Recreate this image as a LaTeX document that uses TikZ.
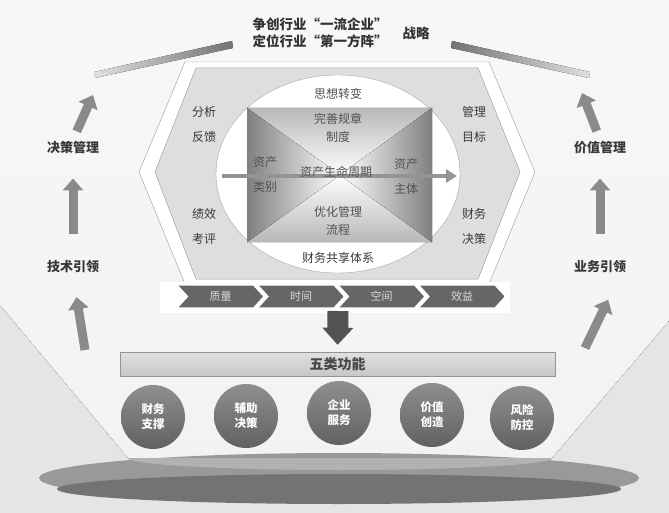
\documentclass[tikz,border=0pt]{standalone}
\usepackage{fontspec}
\setmainfont{Noto Sans CJK SC}
\usetikzlibrary{arrows.meta, positioning, shapes.symbols}
\tikzset{
  titletext/.style = {font=\bfseries\fontsize{13.5}{17}\selectfont, text=black!80,
                      align=center},
  sidelabel/.style = {font=\bfseries\fontsize{13}{15}\selectfont, text=black!78,
                      inner sep=2pt},
  hexlabel/.style  = {font=\fontsize{12}{25}\selectfont, text=black!78, align=center},
  envlabel/.style  = {font=\fontsize{12}{18}\selectfont, text=black!68, align=center},
  chevron/.style   = {signal, signal to=east, signal from=west, signal pointer angle=95,
                      minimum width=87pt, minimum height=23pt, fill=black!60,
                      draw=white, line width=1.2pt, inner sep=0pt,
                      font=\fontsize{11}{13}\selectfont, text=black!15},
  funcball/.style  = {circle, minimum size=64pt, inner sep=0pt, top color=black!44,
                      bottom color=black!62, font=\bfseries\fontsize{11.5}{15}\selectfont,
                      text=white, align=center},
  sidearrow/.style = {-{Triangle[width=20pt,length=12pt]}, line width=9pt, draw=black!46},
  downarrow/.style = {-{Triangle[width=30pt,length=17pt]}, line width=21pt, draw=black!68},
  lifearrow/.style = {-{Triangle[width=13pt,length=11pt]}, line width=4pt, draw=black!42},
}

\begin{document}
\begin{tikzpicture}[x=1pt, y=-1pt]
  \useasboundingbox (0,0) rectangle (669,513);
  % --- backdrop -------------------------------------------------------------
  \fill[black!10] (0,0) rectangle (669,513);
  \fill[top color=black!3, bottom color=black!5] (0,0) -- (0,305) -- (128,458)
    arc[start angle=180, end angle=0, x radius=212, y radius=12]
    -- (669,321) -- (669,0) -- cycle;
  \fill[left color=black!12, right color=black!55] (94,72) -- (232,41) -- (233,48) -- (95,78) -- cycle;
  \fill[left color=black!55, right color=black!12] (452,41) -- (590,72) -- (589,78) -- (451,48) -- cycle;

  % --- hexagon and ellipse --------------------------------------------------
  \draw[black!40, fill=white] (185,62) -- (489,62) -- (535,172) -- (489,284)
    -- (185,284) -- (139,172) -- cycle;
  \fill[left color=black!13, middle color=white, right color=black!13]
    (196,68) -- (478,68) -- (520,172) -- (478,279) -- (196,279) -- (155,172) -- cycle;
  \draw[black!30] (196,68) -- (478,68) -- (520,172) -- (478,279) -- (196,279)
    -- (155,172) -- cycle;
  \draw[black!35, fill=white] (338,174) ellipse [x radius=122, y radius=99];

  % --- envelope -------------------------------------------------------------
  \coordinate (envc) at (340,175);
  \fill[top color=black!28, bottom color=white] (247,108) -- (432,108) -- (envc) -- cycle;
  \fill[top color=white, bottom color=black!28] (247,242) -- (432,242) -- (envc) -- cycle;
  \fill[left color=black!50, right color=white] (247,108) -- (envc) -- (247,242) -- cycle;
  \fill[left color=white, right color=black!50] (432,108) -- (envc) -- (432,242) -- cycle;

  \coordinate (lifeL) at (222,176);
  \coordinate (lifeR) at (457,176);
  \draw[lifearrow] (lifeL) -- (lifeR);

  \node[envlabel] (sixiang) at (338,94) {思想转变};
  \node[envlabel] (guizhang) at (338,128) {完善规章\\制度};
  \node[envlabel, font=\fontsize{12}{25}\selectfont] (leibie) at (265,174) {资产\\类别};
  \node[envlabel] (zhouqi) at (336,172) {资产生命周期};
  \node[envlabel, font=\fontsize{12}{25}\selectfont] (zhuti) at (406,176) {资产\\主体};
  \node[envlabel] (liucheng) at (338,221) {优化管理\\流程};
  \node[envlabel, text=black!78] (gongxiang) at (338,258) {财务共享体系};

  \node[hexlabel] (fenxi) at (204,124) {分析\\反馈};
  \node[hexlabel] (kaoping) at (204,226) {绩效\\考评};
  \node[hexlabel] (mubiao) at (474,124) {管理\\目标};
  \node[hexlabel] (caiwu) at (474,226) {财务\\决策};

  % --- chevrons -------------------------------------------------------------
  \fill[white] (160,282) rectangle (510,313);
  \node[chevron] (zhiliang) at (220.5,296.5) {质量};
  \node[chevron] (shijian) at (301,296.5) {时间};
  \node[chevron] (kongjian) at (381.5,296.5) {空间};
  \node[chevron] (xiaoyi) at (462,296.5) {效益};

  % --- five functions -------------------------------------------------------
  \node[draw=black!42, top color=black!12, bottom color=black!22, minimum width=435pt,
        minimum height=24pt, font=\bfseries\fontsize{14}{16}\selectfont, text=black!72]
        (wulei) at (337.5,364) {五类功能};
  \coordinate (dtop) at (338,311);
  \draw[downarrow, shorten >=7pt] (dtop) -- (wulei.north);

  \fill[black!40] (339,478) ellipse [x radius=300, y radius=25];
  \fill[black!55] (339,489) ellipse [x radius=282, y radius=15];
  \fill[black!30] (128,458) arc[start angle=180, end angle=0, x radius=212, y radius=12]
    -- cycle;

  \node[funcball] (zhicheng) at (153,417) {财务\\支撑};
  \node[funcball] (fuzhu) at (246,416) {辅助\\决策};
  \node[funcball] (fuwu) at (339,413) {企业\\服务};
  \node[funcball] (chuangzao) at (432,415) {价值\\创造};
  \node[funcball] (fangkong) at (522,418) {风险\\防控};

  % --- title ----------------------------------------------------------------
  \node[titletext] (zhengchuang) at (320,33) {争创行业“一流企业”\\定位行业“第一方阵”};
  \node[titletext, right=8pt of zhengchuang] (zhanlue) {战略};

  % --- side columns ---------------------------------------------------------
  \node[sidelabel] (juece) at (73,148) {决策管理};
  \node[sidelabel] (jishu) at (73,267) {技术引领};
  \node[sidelabel] (jiazhi) at (600,148) {价值管理};
  \node[sidelabel] (yewu) at (600,267) {业务引领};
  \coordinate (lbase) at (85,350);
  \coordinate (ltop) at (93,95);
  \coordinate (rbase) at (585,348);
  \coordinate (rtop) at (582,93);

  \draw[sidearrow, shorten >=22pt] (lbase) -- (jishu.south);
  \draw[sidearrow, shorten <=25pt, shorten >=22pt] (jishu) -- (juece);
  \draw[sidearrow, shorten <=9pt] (juece.north) -- (ltop);
  \draw[sidearrow, shorten >=27pt] (rbase) -- (yewu.-23);
  \draw[sidearrow, shorten <=25pt, shorten >=22pt] (yewu) -- (jiazhi);
  \draw[sidearrow, shorten <=9pt] (jiazhi.north) -- (rtop);
\end{tikzpicture}
\end{document}
